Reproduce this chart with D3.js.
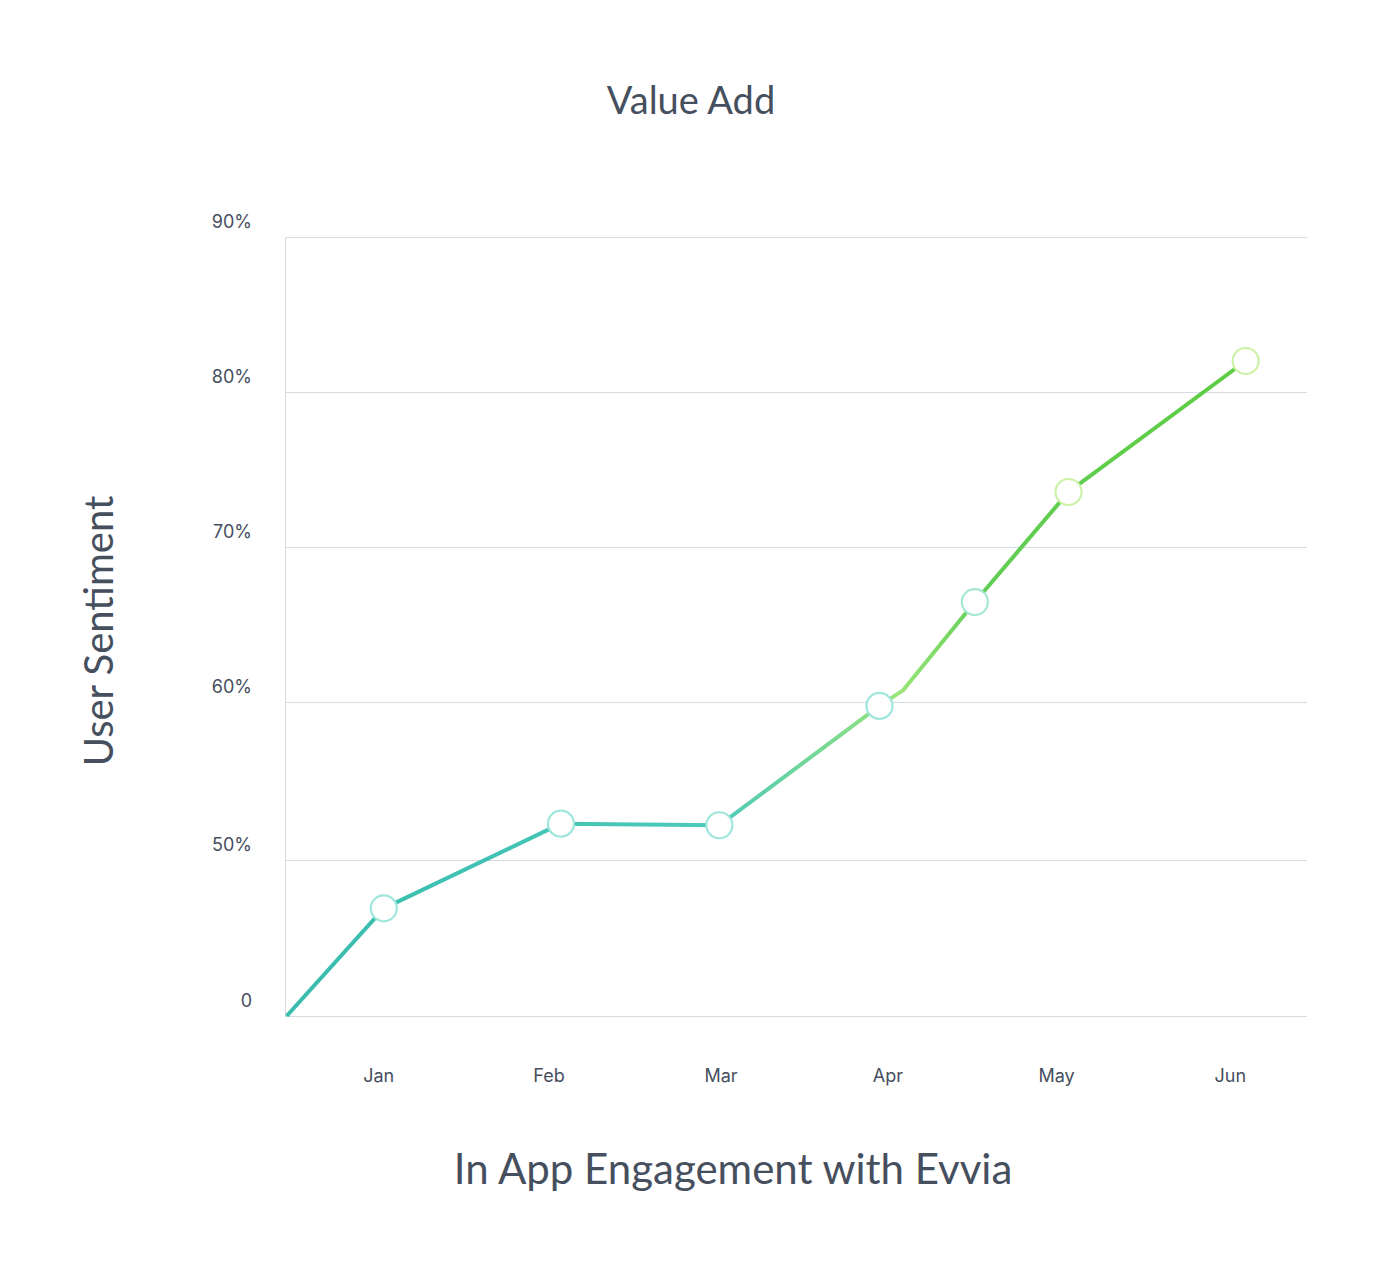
<!DOCTYPE html>
<html>
<head>
<meta charset="utf-8">
<script src="https://cdn.jsdelivr.net/npm/d3@7"></script>
<style>
  html, body { margin: 0; padding: 0; background: #fff; }
  svg { display: block; }
</style>
</head>
<body>
<svg id="chart" width="1382" height="1264"></svg>
<script>
// ---- data ----
const chartTitle = "Value Add";
const xTitle = "In App Engagement with Evvia";
const yTitle = "User Sentiment";
const monthLabels = ["Jan", "Feb", "Mar", "Apr", "May", "Jun"];
const monthPositions = [0.55, 1.55, 2.56, 3.54, 4.53, 5.55];
const yTickValues = [40, 50, 60, 70, 80, 90];
const yTickLabels = ["0", "50%", "60%", "70%", "80%", "90%"];
// line vertices (x in month units, y in %)
const lineX = [0.01, 0.58, 1.62, 2.55, 3.49, 3.63, 4.05, 4.60, 5.64];
const lineY = [40.0, 46.9, 52.3, 52.2, 59.75, 60.77, 66.45, 73.55, 82.0];
// indices of vertices that carry a marker
const markerIdx = [1, 2, 3, 4, 6, 7, 8];

(function () {
// ---- layout ----
const svg = d3.select("#chart");
const pLeft = 285, pRight = 1307;
const x = d3.scaleLinear().domain([0, 6]).range([pLeft, pRight]);
const y = d3.scaleLinear().domain(yTickValues).range([1016, 860, 702, 547, 392, 237]);
const textColor = "#464f5e";

// gridlines
const yAxis = d3.axisLeft(y).tickValues(yTickValues)
  .tickSize(-(pRight - pLeft)).tickFormat("");
svg.append("g").attr("transform", `translate(${pLeft},0)`).call(yAxis)
  .call(g => g.select(".domain").attr("stroke", "#d7dbe3").attr("stroke-width", 1))
  .call(g => g.selectAll(".tick line").attr("stroke", "#d7dbe3").attr("stroke-width", 1));

// y tick labels
svg.append("g").selectAll("text").data(yTickValues).join("text")
  .attr("x", 252).attr("y", d => y(d) - 9)
  .attr("text-anchor", "end")
  .attr("font-family", "Inter, 'Noto Sans', sans-serif")
  .attr("font-size", 18).attr("fill", textColor)
  .text((d, i) => yTickLabels[i]);

// x tick labels
svg.append("g").selectAll("text").data(monthPositions).join("text")
  .attr("x", d => x(d)).attr("y", 1082)
  .attr("text-anchor", "middle")
  .attr("font-family", "Inter, 'Noto Sans', sans-serif")
  .attr("font-size", 18).attr("fill", textColor)
  .text((d, i) => monthLabels[i]);

// gradient
const defs = svg.append("defs");
const grad = defs.append("linearGradient").attr("id", "lineGrad")
  .attr("gradientUnits", "userSpaceOnUse")
  .attr("x1", pLeft).attr("x2", pRight).attr("y1", 0).attr("y2", 0);
[[0, "#38bcad"], [0.42, "#4cc9bb"], [0.58, "#8ee080"], [0.6, "#9ce57a"],
 [0.68, "#62ce55"], [1, "#5ccd3e"]].forEach(([o, c]) =>
  grad.append("stop").attr("offset", o).attr("stop-color", c));

const pts = lineX.map((v, i) => [v, lineY[i]]);
const line = d3.line().x(d => x(d[0])).y(d => y(d[1]));
svg.append("path").attr("d", line(pts))
  .attr("fill", "none").attr("stroke", "url(#lineGrad)")
  .attr("stroke-width", 4).attr("stroke-linejoin", "round");

// markers
const markerColor = d3.scaleLinear().domain([3.5, 4.1, 4.6])
  .range(["#9fe6dc", "#a6e8d0", "#ccf2a8"]).clamp(true);
svg.append("g").selectAll("circle").data(markerIdx.map(i => pts[i])).join("circle")
  .attr("cx", d => x(d[0])).attr("cy", d => y(d[1])).attr("r", 13)
  .attr("fill", "#fff").attr("stroke", d => markerColor(d[0])).attr("stroke-width", 2.2);

// titles
svg.append("text").attr("x", 691).attr("y", 114).attr("text-anchor", "middle")
  .attr("font-family", "Lato, 'Open Sans', sans-serif").attr("font-size", 38)
  .attr("fill", textColor).text(chartTitle);

svg.append("text").attr("x", 733).attr("y", 1184).attr("text-anchor", "middle")
  .attr("font-family", "Lato, 'Open Sans', sans-serif").attr("font-size", 42)
  .attr("fill", textColor).text(xTitle);

svg.append("text").attr("transform", "translate(113,631) rotate(-90)")
  .attr("text-anchor", "middle")
  .attr("font-family", "Lato, 'Open Sans', sans-serif").attr("font-size", 40)
  .attr("fill", textColor).text(yTitle);
})();
</script>
</body>
</html>
